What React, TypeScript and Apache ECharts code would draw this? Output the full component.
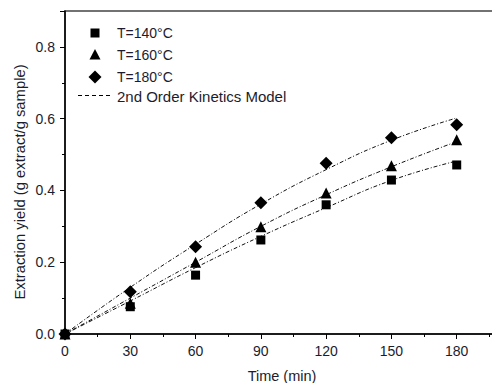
import React, { useEffect, useRef } from "react";
import * as echarts from "echarts";

const times = [0, 30, 60, 90, 120, 150, 180];
const yield140 = [0, 0.076, 0.164, 0.262, 0.36, 0.429, 0.471];
const yield160 = [0, 0.086, 0.2, 0.299, 0.393, 0.469, 0.541];
const yield180 = [0, 0.118, 0.243, 0.366, 0.476, 0.547, 0.583];
const model140 = [0, 0.092, 0.185, 0.272, 0.352, 0.428, 0.482];
const model160 = [0, 0.1, 0.2, 0.3, 0.388, 0.466, 0.536];
const model180 = [0, 0.13, 0.25, 0.362, 0.458, 0.54, 0.602];

const seriesNames = ["T=140°C", "T=160°C", "T=180°C"];
const modelName = "2nd Order Kinetics Model";
const xTitle = "Time (min)";
const yTitle = "Extraction yield (g extract/g sample)";

const FONT = '"Liberation Sans", Arial, sans-serif';
const TXT = "#1c1c2e";

const pairs = (xs: number[], ys: number[]) => xs.map((x, i) => [x, ys[i]]);

export default function App() {
  const ref = useRef<HTMLDivElement>(null);
  useEffect(() => {
    if (!ref.current) return;
    const chart = echarts.init(ref.current, null, { renderer: "svg" });
    const dash = [4, 2, 1, 2];
    const modelLine = (ys: number[], id: string) => ({
      id,
      name: modelName,
      type: "line",
      data: pairs(times, ys),
      smooth: true,
      symbol: "none",
      lineStyle: { color: "#111", width: 1, type: dash },
      itemStyle: { color: "#000" },
      z: 2,
    });
    const legendText = (y: number, text: string, size = 14) => ({
      type: "text",
      x: 117,
      y,
      style: { text, fontFamily: FONT, fontSize: size, fill: TXT, align: "left", verticalAlign: "middle" },
    });
    const marker = { color: "#000", opacity: 1 };
    chart.setOption({
      animation: false,
      textStyle: { fontFamily: FONT },
      grid: { left: 65, top: 11, bottom: 49, right: 0, show: true, borderColor: "#444", borderWidth: 1.5, backgroundColor: "transparent" },
      xAxis: {
        type: "value",
        min: 0,
        max: 210,
        interval: 30,
        axisLine: { show: true, lineStyle: { color: "#000", width: 1.5 } },
        axisTick: { show: true, length: 5, lineStyle: { color: "#000" } },
        minorTick: { show: true, splitNumber: 2, length: 3, lineStyle: { color: "#000" } },
        splitLine: { show: false },
        axisLabel: { fontFamily: FONT, fontSize: 14, color: TXT, margin: 10, showMaxLabel: false },
      },
      yAxis: {
        type: "value",
        min: 0,
        max: 0.9,
        interval: 0.2,
        axisLine: { show: true, lineStyle: { color: "#000", width: 1.5 } },
        axisTick: { show: true, length: 5, lineStyle: { color: "#000" } },
        minorTick: { show: true, splitNumber: 2, length: 3, lineStyle: { color: "#000" } },
        splitLine: { show: false },
        axisLabel: { fontFamily: FONT, fontSize: 14, color: TXT, margin: 10, showMaxLabel: false, formatter: (v: number) => v.toFixed(1) },
      },
      graphic: [
        {
          type: "text",
          x: 20,
          y: 182,
          rotation: Math.PI / 2,
          style: { text: yTitle, fontFamily: FONT, fontSize: 14.8, fill: TXT, align: "center", verticalAlign: "middle" },
        },
        {
          type: "text",
          x: 282,
          y: 376,
          style: { text: xTitle, fontFamily: FONT, fontSize: 14.5, fill: TXT, align: "center", verticalAlign: "middle" },
        },
        { type: "rect", shape: { x: 90.5, y: 28.5, width: 9, height: 9 }, style: { fill: "#000" } },
        { type: "polygon", shape: { points: [[95, 49], [100.5, 59.5], [89.5, 59.5]] }, style: { fill: "#000" } },
        { type: "polygon", shape: { points: [[95, 70.5], [101.5, 77], [95, 83.5], [88.5, 77]] }, style: { fill: "#000" } },
        { type: "line", shape: { x1: 78, y1: 95.5, x2: 111, y2: 95.5 }, style: { stroke: "#000", lineWidth: 1, lineDash: [4, 3] } },
        legendText(33, seriesNames[0]),
        legendText(55, seriesNames[1]),
        legendText(77, seriesNames[2]),
        legendText(96, modelName, 15),
      ],
      series: [
        modelLine(model140, "m140"),
        modelLine(model160, "m160"),
        modelLine(model180, "m180"),
        { name: seriesNames[0], type: "scatter", data: pairs(times, yield140), symbol: "rect", symbolSize: 9, itemStyle: marker, z: 3 },
        { name: seriesNames[1], type: "scatter", data: pairs(times, yield160), symbol: "triangle", symbolSize: 11, itemStyle: marker, z: 3 },
        { name: seriesNames[2], type: "scatter", data: pairs(times, yield180), symbol: "diamond", symbolSize: 13, itemStyle: marker, z: 3 },
      ],
    });
    return () => chart.dispose();
  }, []);
  return (
    <div style={{ position: "absolute", left: 0, top: 0, width: 492, height: 383, overflow: "hidden" }}>
      <div ref={ref} style={{ width: 522, height: 383 }} />
    </div>
  );
}
